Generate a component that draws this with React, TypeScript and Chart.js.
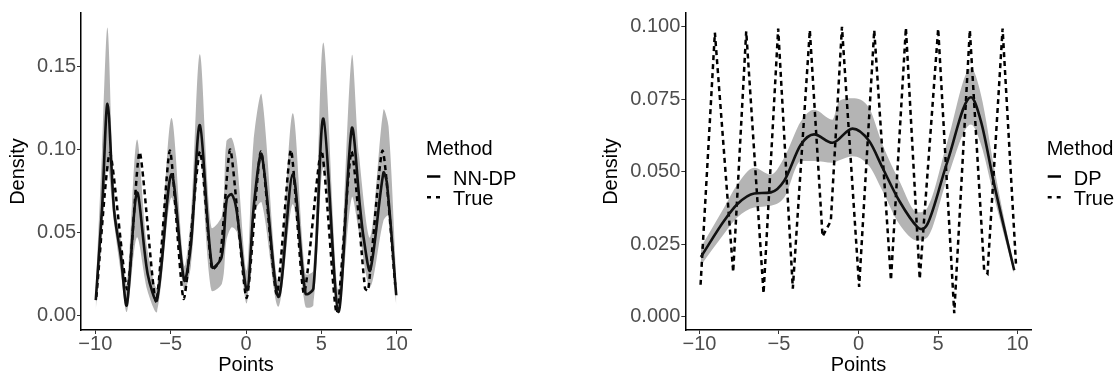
import React, { useEffect, useRef } from 'react';
import { Chart, registerables } from 'chart.js';

Chart.register(...registerables);

const FONT = '"Liberation Sans", Arial, Helvetica, sans-serif';
const BAND = 'rgb(180,180,180)';

// ---- tick labels ----
const xTickValues = [-10, -5, 0, 5, 10];
const xTickLabels = ['\u221210', '\u22125', '0', '5', '10'];
const leftYTickValues = [0, 0.05, 0.1, 0.15];
const leftYTickLabels = ['0.00', '0.05', '0.10', '0.15'];
const rightYTickValues = [0, 0.025, 0.05, 0.075, 0.1];
const rightYTickLabels = ['0.000', '0.025', '0.050', '0.075', '0.100'];

// ---- True density (both panels) ----
const trueX = [-9.93, -9.03, -7.88, -7.06, -5.97, -5.05, -4.13, -3.06, -2.26, -1.74, -1.04, 0.04, 0.99, 2.04, 2.98, 3.85, 5.01, 6.02, 7.0, 7.9, 8.11, 9.06, 9.9];
const trueY = [0.011, 0.098, 0.0154, 0.0985, 0.008, 0.0994, 0.0097, 0.0989, 0.0277, 0.033, 0.1, 0.0103, 0.0989, 0.0126, 0.0997, 0.013, 0.0994, 0.0012, 0.0989, 0.016, 0.0149, 0.0994, 0.0183];

// ---- NN-DP estimate (left panel) ----
const nnX = [-9.97, -9.55, -9.19, -8.75, -8.3, -7.91, -7.24, -6.53, -5.91, -4.95, -4.1, -3.65, -3.06, -2.25, -1.62, -1.28, -0.95, -0.62, 0.07, 0.53, 1.04, 2.15, 3.1, 3.95, 4.47, 5.14, 6.13, 7.02, 7.57, 7.8, 8.24, 9.12, 9.35, 9.97];
const nnY = [0.009, 0.065, 0.1277, 0.063, 0.035, 0.006, 0.074, 0.025, 0.009, 0.085, 0.021, 0.043, 0.1147, 0.029, 0.035, 0.07, 0.073, 0.063, 0.015, 0.067, 0.097, 0.011, 0.085, 0.013, 0.016, 0.1187, 0.002, 0.1127, 0.065, 0.047, 0.027, 0.086, 0.08, 0.012];

const nnBandX = [-9.97, -9.55, -9.19, -8.75, -8.3, -7.9, -7.24, -6.55, -5.9, -4.95, -4.1, -3.65, -3.06, -2.3, -1.6, -1.3, -0.95, -0.6, 0.05, 0.5, 1.04, 2.15, 3.1, 3.95, 4.47, 5.14, 6.13, 7.02, 7.5, 8.24, 9.12, 9.46, 9.97];
const nnUpper = [0.015, 0.1, 0.1735, 0.07, 0.045, 0.019, 0.106, 0.04, 0.017, 0.119, 0.03, 0.06, 0.1576, 0.053, 0.06, 0.105, 0.107, 0.093, 0.027, 0.105, 0.133, 0.02, 0.122, 0.025, 0.027, 0.1646, 0.015, 0.1566, 0.097, 0.047, 0.124, 0.114, 0.023];
const nnLower = [0.003, 0.05, 0.09, 0.055, 0.025, 0.002, 0.047, 0.015, 0.002, 0.071, 0.015, 0.03, 0.095, 0.015, 0.019, 0.045, 0.053, 0.05, 0.007, 0.061, 0.068, 0.005, 0.067, 0.005, 0.006, 0.089, 0.001, 0.071, 0.05, 0.017, 0.057, 0.06, 0.006];

// ---- DP estimate (right panel) ----
const dpX = [-9.91, -8.45, -7.61, -6.56, -5.51, -4.67, -3.62, -2.79, -1.64, -0.38, 0.67, 1.51, 2.56, 3.71, 3.95, 4.34, 5.6, 7.07, 7.7, 8.53, 9.79];
const dpY = [0.0206, 0.0331, 0.0389, 0.0425, 0.0429, 0.0469, 0.0594, 0.0629, 0.06, 0.0649, 0.0606, 0.0514, 0.04, 0.0309, 0.0302, 0.032, 0.0537, 0.0757, 0.0674, 0.0457, 0.016];

const dpBandX = [-9.91, -8.45, -7.61, -6.56, -5.51, -4.67, -3.62, -2.79, -1.64, -1.2, -0.38, 0.67, 1.51, 2.56, 3.71, 4.34, 5.6, 7.07, 7.7, 8.53, 9.79];
const dpUpper = [0.024, 0.0377, 0.0457, 0.0514, 0.049, 0.0549, 0.0674, 0.0714, 0.068, 0.0745, 0.0754, 0.072, 0.0594, 0.0469, 0.036, 0.0377, 0.0606, 0.0857, 0.0766, 0.0514, 0.0165];
const dpLower = [0.0177, 0.0286, 0.0343, 0.0377, 0.0383, 0.0411, 0.0537, 0.0537, 0.0531, 0.054, 0.0554, 0.052, 0.0434, 0.032, 0.0263, 0.0274, 0.048, 0.0663, 0.0594, 0.0411, 0.0148];

const zip = (xs: number[], ys: number[]) => xs.map((x, i) => ({ x, y: ys[i] }));

type LegendItem = { label: string; dash: number[] };

function legendPlugin(items: LegendItem[]) {
  return {
    id: 'methodLegend',
    afterDraw(chart: any) {
      const { ctx, chartArea } = chart;
      const x0 = chartArea.right + 15;
      const cy = (chartArea.top + chartArea.bottom) / 2;
      ctx.save();
      ctx.font = `20px ${FONT}`;
      ctx.fillStyle = '#000';
      ctx.textAlign = 'left';
      ctx.textBaseline = 'alphabetic';
      ctx.fillText('Method', x0, cy - 16.7);
      items.forEach((it, i) => {
        const ky = cy + 5 + i * 20.7;
        ctx.beginPath();
        ctx.setLineDash(it.dash);
        ctx.lineWidth = 2.5;
        ctx.strokeStyle = '#000';
        ctx.moveTo(x0 + 1, ky);
        ctx.lineTo(x0 + 14.3, ky);
        ctx.stroke();
        ctx.setLineDash([]);
        ctx.fillText(it.label, x0 + 27, cy + 13.3 + i * 20);
      });
      ctx.restore();
    },
  };
}

function makeConfig(p: {
  bandX: number[]; upper: number[]; lower: number[]; bandTension: number; bandMode: string;
  estX: number[]; estY: number[]; estTension: number; estMode: string; trueTension: number;
  yMin: number; yMax: number; xMin: number; xMax: number;
  yTicks: number[]; yLabels: string[];
  padding: any; yWidth: number; xHeight: number;
  legend: LegendItem[];
}) {
  const tickFont = { size: 20, family: FONT };
  return {
    type: 'line',
    data: {
      datasets: [
        { label: 'lower', data: zip(p.bandX, p.lower), borderWidth: 0, pointRadius: 0, fill: false, order: 3, tension: p.bandTension, cubicInterpolationMode: p.bandMode, borderColor: 'rgba(0,0,0,0)' },
        { label: 'upper', data: zip(p.bandX, p.upper), borderWidth: 0, pointRadius: 0, fill: '-1', backgroundColor: BAND, order: 3, tension: p.bandTension, cubicInterpolationMode: p.bandMode, borderColor: 'rgba(0,0,0,0)' },
        { label: 'True', data: zip(trueX, trueY), borderColor: '#000', borderWidth: 2.5, borderDash: [5, 4], pointRadius: 0, fill: false, order: 1, tension: p.trueTension },
        { label: 'est', data: zip(p.estX, p.estY), borderColor: '#111', borderWidth: 2.6, pointRadius: 0, fill: false, order: 0, tension: p.estTension, cubicInterpolationMode: p.estMode },
      ],
    },
    options: {
      animation: false,
      responsive: false,
      devicePixelRatio: 1,
      layout: { padding: p.padding },
      plugins: { legend: { display: false }, tooltip: { enabled: false } },
      scales: {
        x: {
          type: 'linear',
          min: p.xMin,
          max: p.xMax,
          afterBuildTicks: (s: any) => { s.ticks = xTickValues.map((v) => ({ value: v })); },
          afterFit: (s: any) => { s.height = p.xHeight; },
          ticks: { callback: (_v: any, i: number) => xTickLabels[i], font: tickFont, color: '#4D4D4D', padding: -2, maxRotation: 0, autoSkip: false },
          grid: { drawOnChartArea: false, drawTicks: true, tickLength: 4, color: '#333333', lineWidth: 1 },
          border: { display: true, color: '#000', width: 1.5 },
          title: { display: true, text: 'Points', font: { size: 20, family: FONT, lineHeight: 0.8 }, color: '#000', padding: 0 },
        },
        y: {
          type: 'linear',
          min: p.yMin,
          max: p.yMax,
          afterBuildTicks: (s: any) => { s.ticks = p.yTicks.map((v) => ({ value: v })); },
          afterFit: (s: any) => { s.width = p.yWidth; },
          ticks: { callback: (_v: any, i: number) => p.yLabels[i], font: tickFont, color: '#4D4D4D', padding: 1, autoSkip: false },
          grid: { drawOnChartArea: false, drawTicks: true, tickLength: 4, color: '#333333', lineWidth: 1 },
          border: { display: true, color: '#000', width: 1.5 },
          title: { display: true, text: 'Density', font: { size: 20, family: FONT, lineHeight: 1 }, color: '#000', padding: { top: 8, bottom: 0 } },
        },
      },
    },
    plugins: [legendPlugin(p.legend)],
  } as any;
}

export default function App() {
  const leftRef = useRef<HTMLCanvasElement>(null);
  const rightRef = useRef<HTMLCanvasElement>(null);

  useEffect(() => {
    const left = new Chart(leftRef.current!, makeConfig({
      bandX: nnBandX, upper: nnUpper, lower: nnLower, bandTension: 0.3, bandMode: 'default',
      estX: nnX, estY: nnY, estTension: 0.3, estMode: 'default', trueTension: 0.2,
      yMin: -0.009, yMax: 0.1825, xMin: -10.95, xMax: 10.95,
      yTicks: leftYTickValues, yLabels: leftYTickLabels,
      padding: { top: 10, left: 0, right: 149, bottom: 0 }, yWidth: 81, xHeight: 43,
      legend: [{ label: 'NN-DP', dash: [] }, { label: 'True', dash: [4, 5] }],
    }));
    const right = new Chart(rightRef.current!, makeConfig({
      bandX: dpBandX, upper: dpUpper, lower: dpLower, bandTension: 0.4, bandMode: 'monotone',
      estX: dpX, estY: dpY, estTension: 0.4, estMode: 'monotone', trueTension: 0,
      yMin: -0.0046, yMax: 0.1048, xMin: -10.89, xMax: 10.89,
      yTicks: rightYTickValues, yLabels: rightYTickLabels,
      padding: { top: 11, left: 33.3, right: 84.3, bottom: 0 }, yWidth: 92, xHeight: 43,
      legend: [{ label: 'DP', dash: [] }, { label: 'True', dash: [4, 5] }],
    }));
    return () => { left.destroy(); right.destroy(); };
  }, []);

  return (
    <div style={{ position: 'fixed', left: 0, top: 0, width: 1116, height: 373, background: '#fff', overflow: 'hidden' }}>
      <canvas ref={leftRef} width={560} height={373} style={{ position: 'absolute', left: 0, top: 0, width: 560, height: 373 }} />
      <canvas ref={rightRef} width={556} height={373} style={{ position: 'absolute', left: 560, top: 0, width: 556, height: 373 }} />
    </div>
  );
}
